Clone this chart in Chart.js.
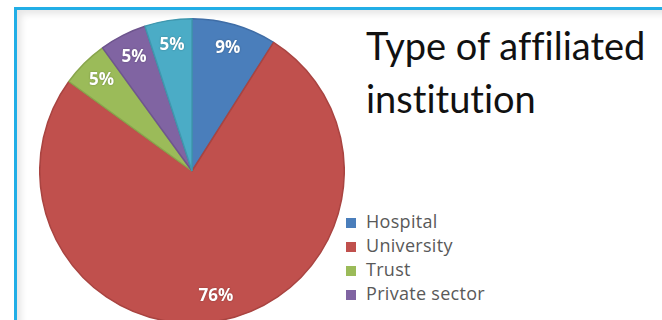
<!DOCTYPE html>
<html>
<head>
<meta charset="utf-8">
<script src="https://cdn.jsdelivr.net/npm/chart.js@4"></script>
<style>
  html, body { margin: 0; padding: 0; background: #fff; }
  body { width: 662px; height: 320px; position: relative; overflow: hidden; }
  #frame {
    position: absolute; left: 14px; top: 7px; width: 700px; height: 400px;
    border-top: 3px solid #22aee6; border-left: 3px solid #22aee6;
    box-shadow: inset 4px 4px 7px rgba(0,0,0,0.10);
  }
  #pie { position: absolute; left: 39px; top: 18px; }
  #title {
    position: absolute; left: 366px; top: 19px;
    font-family: Lato, sans-serif; font-size: 38px; line-height: 53px; color: #111;
    font-variant-ligatures: none; font-feature-settings: "liga" 0, "clig" 0;
  }
  #legend {
    position: absolute; left: 346px; top: 209px; height: 96px; overflow: hidden;
    font-family: "Open Sans", sans-serif; font-size: 18px; color: #595959;
    letter-spacing: 0.3px;
  }
  .row { position: relative; height: 24px; line-height: 24px; padding-left: 20px; white-space: nowrap; }
  .row i { position: absolute; left: 0; top: 9px; width: 10px; height: 10px; }
</style>
</head>
<body>
<div id="frame"></div>
<canvas id="pie" width="306" height="306"></canvas>
<div id="title">Type of affiliated<br>institution</div>
<div id="legend"></div>
<script>
// data (the fifth legend entry is cut off in the original)
const categories = ["Hospital", "University", "Trust", "Private sector", "Other"];
const shares = [9, 76, 5, 5, 5];
const sliceColors = ["#4a7ebb", "#c0504d", "#9bbb59", "#8064a2", "#4bacc6"];
const edgeColors = ["#3f6da6", "#a94441", "#88a54c", "#6e558e", "#3f97ae"];

// legend, built from the same arrays
let legend = document.getElementById("legend");
categories.forEach((name, i) => {
  let row = document.createElement("div");
  row.className = "row";
  row.innerHTML = `<i style="background:${sliceColors[i]}"></i>${name}`;
  legend.appendChild(row);
});

// percent labels inside the slices
const percentLabels = {
  id: "percentLabels",
  afterDatasetsDraw(chart) {
    let ctx = chart.ctx;
    let meta = chart.getDatasetMeta(0);
    ctx.save();
    ctx.font = "bold 17px 'Open Sans', sans-serif";
    ctx.fillStyle = "#fff";
    ctx.textAlign = "center";
    ctx.textBaseline = "middle";
    ctx.shadowColor = "rgba(0,0,0,0.3)";
    ctx.shadowBlur = 2;
    meta.data.forEach((arc, i) => {
      let { x, y, startAngle, endAngle, outerRadius } = arc.getProps(["x", "y", "startAngle", "endAngle", "outerRadius"], true);
      let mid = (startAngle + endAngle) / 2;
      let r = outerRadius * 0.84;
      ctx.fillText(shares[i] + "%", x + Math.cos(mid) * r, y + Math.sin(mid) * r);
    });
    ctx.restore();
  }
};

let pieChart = new Chart(document.getElementById("pie").getContext("2d"), {
  type: "pie",
  data: {
    labels: categories,
    datasets: [{
      data: shares,
      backgroundColor: sliceColors,
      borderColor: edgeColors,
      borderWidth: 1.5
    }]
  },
  options: {
    responsive: false,
    animation: false,
    devicePixelRatio: 1,
    layout: { padding: 0 },
    plugins: {
      legend: { display: false },
      tooltip: { enabled: false }
    }
  },
  plugins: [percentLabels]
});
</script>
</body>
</html>
